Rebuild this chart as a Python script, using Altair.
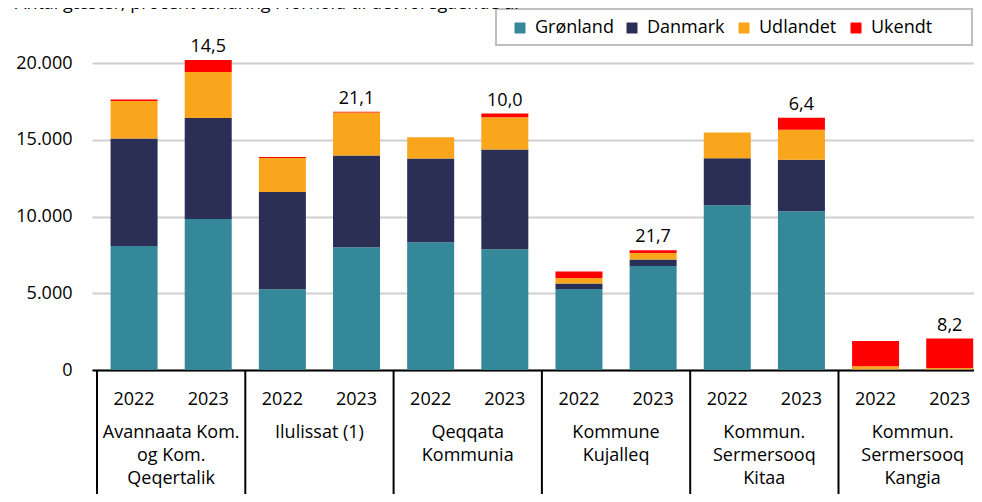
import altair as alt
import pandas as pd

# ---- data ----
groups = [
    "Avannaata Kom.\nog Kom.\nQeqertalik",
    "Ilulissat (1)",
    "Qeqqata\nKommunia",
    "Kommune\nKujalleq",
    "Kommun.\nSermersooq\nKitaa",
    "Kommun.\nSermersooq\nKangia",
]
years = ["2022", "2023"]
series = ["Grønland", "Danmark", "Udlandet", "Ukendt"]
colors = ["#35889A", "#2B2E55", "#F9A61D", "#FF0000"]

gronland = [8080, 9830, 5260, 8000, 8330, 7870, 5280, 6780, 10740, 10350, 30, 20]
danmark = [7000, 6580, 6330, 5980, 5450, 6500, 350, 420, 3060, 3340, 10, 10]
udlandet = [2440, 3000, 2220, 2800, 1390, 2100, 365, 430, 1675, 1960, 200, 100]
ukendt = [100, 780, 60, 40, 0, 240, 415, 175, 0, 780, 1650, 1920]
pct_change = ["14,5", "21,1", "10,0", "21,7", "6,4", "8,2"]

title_text = "Antal gæster, procent ændring i forhold til det foregående år"

FONT = "Open Sans"
FS = 18

values = {"Grønland": gronland, "Danmark": danmark, "Udlandet": udlandet, "Ukendt": ukendt}

rows = []
for gi, g in enumerate(groups):
    for yi, yr in enumerate(years):
        idx = gi * 2 + yi
        for si, s in enumerate(series):
            rows.append(dict(pos=idx + 0.5, group=g, year=yr, series=s, ord=si,
                             value=values[s][idx]))
bars_df = pd.DataFrame(rows)

year_df = pd.DataFrame([dict(pos=gi * 2 + yi + 0.5, year=yr)
                        for gi in range(len(groups)) for yi, yr in enumerate(years)])
group_df = pd.DataFrame([dict(pos=gi * 2 + 1, label=g) for gi, g in enumerate(groups)])
bound_df = pd.DataFrame({"b": list(range(0, len(groups) * 2 + 1, 2))})
pct_df = pd.DataFrame([
    dict(pos=gi * 2 + 1.5,
         total=sum(values[s][gi * 2 + 1] for s in series),
         label=pct_change[gi])
    for gi in range(len(groups))
])

W = 882          # visible plot width; one group step is 150 px
n_slots = len(groups) * 2
xscale = alt.Scale(domain=[0, n_slots * W / 900], nice=False, zero=False)
yscale = alt.Scale(domain=[0, 20000], nice=False)

x_axis = alt.Axis(labels=False, ticks=False, grid=False, domain=True,
                  domainColor="black", domainWidth=2, title=None)
y_axis = alt.Axis(values=[0, 5000, 10000, 15000, 20000], title=None,
                  labelExpr="replace(format(datum.value, ',.0f'), ',', '.')",
                  ticks=False, domain=False, labelPadding=20,
                  labelFont=FONT, labelFontSize=FS, labelColor="#000000",
                  gridColor="#cfcfcf", gridWidth=2)

bars = alt.Chart(bars_df).mark_bar(size=47).encode(
    x=alt.X("pos:Q", scale=xscale, axis=x_axis),
    y=alt.Y("value:Q", stack="zero", scale=yscale, axis=y_axis),
    color=alt.Color("series:N",
                    scale=alt.Scale(domain=series, range=colors),
                    legend=alt.Legend(orient="none", direction="horizontal", title=None,
                                      legendX=419, legendY=-44,
                                      symbolType="square", symbolSize=121,
                                      symbolStrokeWidth=0,
                                      labelFont=FONT, labelFontSize=FS,
                                      labelColor="#000000",
                                      gridAlign="all", columnPadding=9,
                                      labelOffset=6, padding=0)),
    order=alt.Order("ord:Q", sort="ascending"),
)

legend_box = alt.Chart(pd.DataFrame({"a": [0]})).mark_rect(
    fillOpacity=0, stroke="#bfbfbf", strokeWidth=2
).encode(
    x=alt.value(404), x2=alt.value(880), y=alt.value(-54), y2=alt.value(-18)
)

pct_text = alt.Chart(pct_df).mark_text(
    font=FONT, fontSize=FS, baseline="alphabetic", align="center", dy=-8, color="#000000"
).encode(
    x=alt.X("pos:Q", scale=xscale, axis=x_axis),
    y=alt.Y("total:Q", scale=yscale, axis=y_axis),
    text="label:N",
)

year_text = alt.Chart(year_df).mark_text(
    font=FONT, fontSize=FS, baseline="alphabetic", align="center", color="#000000"
).encode(
    x=alt.X("pos:Q", scale=xscale, axis=x_axis),
    y=alt.value(342),
    text="year:N",
)

group_text = alt.Chart(group_df).mark_text(
    font=FONT, fontSize=FS, baseline="alphabetic", align="center", color="#000000",
    lineBreak="\n", lineHeight=23,
).encode(
    x=alt.X("pos:Q", scale=xscale, axis=x_axis),
    y=alt.value(375),
    text="label:N",
)

bounds = alt.Chart(bound_df).mark_rule(color="black", strokeWidth=2).encode(
    x=alt.X("b:Q", scale=xscale, axis=x_axis),
    y=alt.value(307),
    y2=alt.value(460),
)

title_mark = alt.Chart(pd.DataFrame({"t": [title_text]})).mark_text(
    font=FONT, fontSize=FS, baseline="alphabetic", align="left", color="#000000"
).encode(
    x=alt.value(-77), y=alt.value(-54), text="t:N"
)

chart = alt.layer(
    bars, bounds, year_text, group_text, pct_text, legend_box, title_mark
).properties(
    width=W, height=307,
    autosize=alt.AutoSizeParams(type="none"),
    padding={"left": 84, "top": 55, "right": 0, "bottom": 124},
).configure_view(stroke=None)

chart.save("out.html", embed_options={"renderer": "svg", "actions": False})
